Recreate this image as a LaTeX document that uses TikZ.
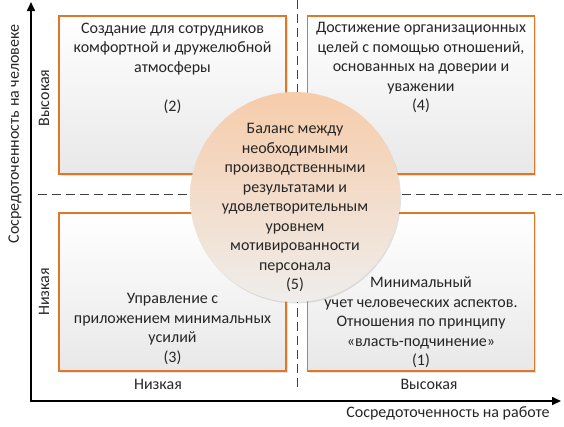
\documentclass[tikz,border=0pt]{standalone}
\usepackage{fontspec}
\setmainfont{Carlito}
\usetikzlibrary{arrows.meta,shadows}
\definecolor{boxorange}{RGB}{224,118,40}
\definecolor{txt}{RGB}{38,38,38}
\definecolor{peach}{RGB}{246,204,170}
\definecolor{circbot}{RGB}{239,237,235}
\tikzset{
  quad/.style={draw=boxorange, line width=1.8pt, top color=white, bottom color=black!9,
    minimum width=227pt, minimum height=158pt, inner sep=0pt,
    drop shadow={opacity=0.22, shadow xshift=1.5pt, shadow yshift=-1.5pt}},
  txtblock/.style={align=center, inner sep=0pt, text=txt, anchor=north,
    font=\fontsize{16}{19.5}\selectfont},
  lbl/.style={inner sep=0pt, text=txt, font=\fontsize{16}{19.5}\selectfont},
  axis/.style={line width=1.6pt, -{Triangle[length=9pt,width=8pt]}},
  divider/.style={line width=1pt, black!75, dash pattern=on 9pt off 5pt},
}
\begin{document}
\begin{tikzpicture}[x=1pt,y=-1pt]
\useasboundingbox (0,0) rectangle (564,426);
% quadrants
\node[quad] (q2) at (172.5,95) {};
\node[quad] (q4) at (421,95) {};
\node[quad] (q3) at (172.5,292) {};
\node[quad] (q1) at (421,292) {};
% dividers
\coordinate (vt) at (297,0);
\coordinate (vb) at (297,387);
\coordinate (hl) at (38,194);
\coordinate (hr) at (562,194);
\draw[divider] (vt) -- (vb);
\draw[divider] (hl) -- (hr);
% axes
\coordinate (o1) at (31,402);
\coordinate (ytop) at (31,2);
\coordinate (o2) at (30,401);
\coordinate (xend) at (561,401);
\draw[axis] (o1) -- (ytop);
\draw[axis] (o2) -- (xend);
% center circle
\node[circle, minimum size=210pt, inner sep=0pt, top color=peach, bottom color=circbot,
  drop shadow={opacity=0.22, shadow xshift=1pt, shadow yshift=-1.5pt}] (c5) at (295,197) {};
% texts
\node[txtblock] (t2) at (172.5,22.5) {Создание для сотрудников\\комфортной и дружелюбной\\атмосферы\\[19.5pt](2)};
\node[txtblock] (t4) at (421,22.5) {Достижение организационных\\целей с помощью отношений,\\основанных на доверии и\\уважении\\(4)};
\node[txtblock] (t3) at (172.5,293.5) {Управление с\\приложением минимальных\\усилий\\(3)};
\node[txtblock] (t1) at (421,276.5) {Минимальный\\учет человеческих аспектов.\\Отношения по принципу\\«власть-подчинение»\\(1)};
\node[txtblock] (t5) at (295,123.5) {Баланс между\\необходимыми\\производственными\\результатами и\\удовлетворительным\\уровнем\\мотивированности\\персонала\\(5)};
% axis labels
\node[lbl, rotate=90] (ylab) at (15,134) {Сосредоточенность на человеке};
\node[lbl, rotate=90] (yhigh) at (44,98) {Высокая};
\node[lbl, rotate=90] (ylow) at (44,292) {Низкая};
\node[lbl] (xlow) at (158,384) {Низкая};
\node[lbl] (xhigh) at (429,384) {Высокая};
\node[lbl] (xlab) at (448,413) {Сосредоточенность на работе};
\end{tikzpicture}
\end{document}
